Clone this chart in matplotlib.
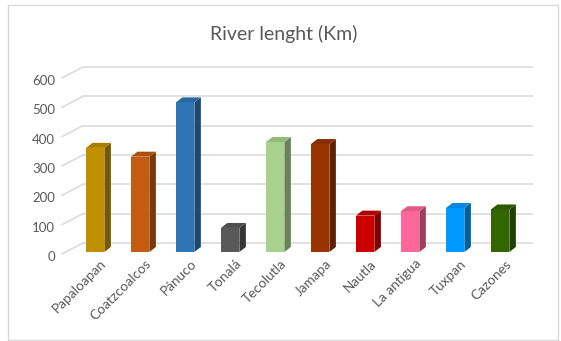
import matplotlib
matplotlib.use("Agg")
import matplotlib.pyplot as plt
import matplotlib.colors as mcolors
from matplotlib.patches import Rectangle
from matplotlib.transforms import ScaledTranslation

plt.rcParams["font.family"] = ["Lato", "DejaVu Sans"]

# ---------------------------------------------------------------------------
# Data
# ---------------------------------------------------------------------------
rivers = ["Papaloapan", "Coatzcoalcos", "Pánuco", "Tonalá", "Tecolutla",
          "Jamapa", "Nautla", "La antigua", "Tuxpan", "Cazones"]
lengths_km = [355, 325, 510, 82, 375, 368, 124, 139, 150, 145]
bar_colors = ["#BF8F00", "#C55A11", "#2E75B6", "#595959", "#A9D18E",
              "#993300", "#CC0000", "#FF6699", "#0099FF", "#336600"]
y_ticks = [0, 100, 200, 300, 400, 500, 600]

TEXT = "#595959"
GRID = "#D9D9D9"

# ---------------------------------------------------------------------------
# Figure / axes geometry (pixels -> data units for the fake depth)
# ---------------------------------------------------------------------------
W_PX, H_PX, DPI = 561, 341, 100
fig = plt.figure(figsize=(W_PX / DPI, H_PX / DPI), dpi=DPI)

ax_l, ax_w = 70.4, 450.0          # px
ax_b, ax_h = 89.0, 176.0          # px from bottom
ax = fig.add_axes([ax_l / W_PX, ax_b / H_PX, ax_w / W_PX, ax_h / H_PX])
xlo, xhi = -0.55, 9.45
ymax = 600
ax.set_xlim(xlo, xhi)
ax.set_ylim(0, ymax)

px_x = ax_w / (xhi - xlo)         # px per category
px_y = ax_h / ymax                # px per km


def depth(dx_px, dy_px):
    return dx_px / px_x, dy_px / px_y


bar_dx, bar_dy = depth(6.5, 5.0)      # bar depth
wall_dx, wall_dy = depth(12.5, 9.0)   # back wall
front_dx, front_dy = depth(-8.5, -2.0)  # front edge of the side wall

# ---------------------------------------------------------------------------
# Walls: back gridlines + slanted side-wall lines
# ---------------------------------------------------------------------------
for v in y_ticks:
    ax.plot([xlo + wall_dx, xhi + wall_dx], [v + wall_dy, v + wall_dy],
            color=GRID, lw=1.1, zorder=1, clip_on=False, solid_capstyle="butt")
    ax.plot([xlo + front_dx, xlo + wall_dx], [v + front_dy, v + wall_dy],
            color=GRID, lw=1.1, zorder=1, clip_on=False)

# ---------------------------------------------------------------------------
# 3D-looking columns
# ---------------------------------------------------------------------------
w = 0.41
xs = list(range(len(rivers)))
ax.bar(xs, lengths_km, width=w, color=bar_colors, zorder=3)
for x, v, c in zip(xs, lengths_km, bar_colors):
    rgb = mcolors.to_rgb(c)
    side = tuple(ch * 0.62 for ch in rgb)
    top = tuple(ch * 0.88 for ch in rgb)
    xr = x + w / 2
    xl = x - w / 2
    ax.fill([xr, xr + bar_dx, xr + bar_dx, xr],
            [0, bar_dy, v + bar_dy, v], color=side, lw=0, zorder=3)
    ax.fill([xl, xr, xr + bar_dx, xl + bar_dx],
            [v, v, v + bar_dy, v + bar_dy], color=top, lw=0, zorder=3)

# ---------------------------------------------------------------------------
# Axes text
# ---------------------------------------------------------------------------
for s in ax.spines.values():
    s.set_visible(False)

ax.set_yticks(y_ticks)
ax.set_yticklabels([str(t) for t in y_ticks], fontsize=9.5, color=TEXT)
ax.tick_params(axis="y", length=0, pad=11)
for lab in ax.get_yticklabels():
    lab.set_transform(lab.get_transform() + ScaledTranslation(0, -4 / DPI, fig.dpi_scale_trans))

ax.set_xticks(xs)
ax.set_xticklabels(rivers, fontsize=9.8, color=TEXT, rotation=45,
                   ha="right", rotation_mode="anchor")
ax.tick_params(axis="x", length=0, pad=4)
for lab in ax.get_xticklabels():
    lab.set_transform(lab.get_transform() + ScaledTranslation(5 / DPI, 0, fig.dpi_scale_trans))

fig.text(284 / W_PX, 1 - 34 / H_PX, "River lenght (Km)", ha="center", va="center",
         fontsize=14, color=TEXT)

# chart frame
fig.patches.append(Rectangle((8 / W_PX, 1 / H_PX), 550 / W_PX, 335 / H_PX,
                             transform=fig.transFigure, fill=False,
                             edgecolor="#D9D9D9", lw=1))

fig.savefig("out.png", dpi=DPI)
